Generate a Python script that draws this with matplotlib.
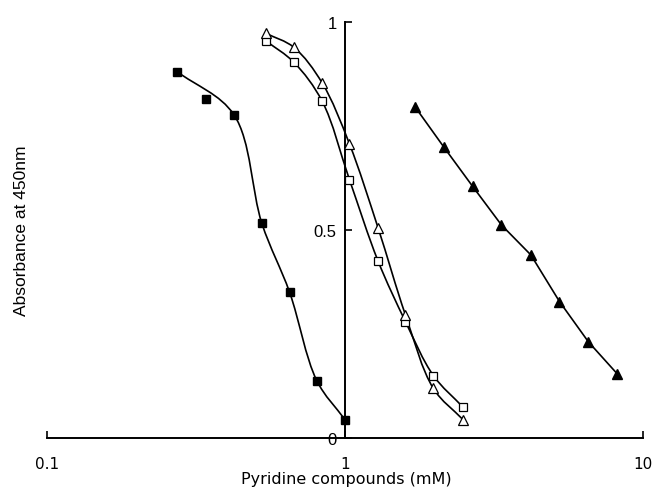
import numpy as np
import matplotlib
matplotlib.use("Agg")
import matplotlib.pyplot as plt
from matplotlib.path import Path
from matplotlib.patches import PathPatch
from matplotlib.ticker import NullLocator, FixedLocator

# data (concentration in mM, absorbance at 450 nm)
x_fsq = [0.273, 0.341, 0.424, 0.526, 0.652, 0.804, 1.0]
y_fsq = [0.881, 0.815, 0.777, 0.516, 0.350, 0.138, 0.044]
# the drawn curve for this series runs past the 2nd point, not through it
fsq_curve_idx = [0, 2, 3, 4, 5, 6]

x_osq = [0.542, 0.674, 0.839, 1.035, 1.29, 1.595, 1.98, 2.49]
y_osq = [0.955, 0.903, 0.809, 0.621, 0.426, 0.280, 0.150, 0.074]

x_otri = [0.542, 0.674, 0.839, 1.035, 1.29, 1.595, 1.98, 2.49]
y_otri = [0.973, 0.939, 0.853, 0.707, 0.506, 0.296, 0.119, 0.044]

x_ftri = [1.722, 2.143, 2.68, 3.35, 4.205, 5.245, 6.56, 8.20]
y_ftri = [0.795, 0.700, 0.605, 0.512, 0.440, 0.328, 0.231, 0.154]

xticks = [0.1, 1, 10]
xtick_labels = ["0.1", "1", "10"]
yticks = [0, 0.5, 1]
ytick_labels = ["0", "0.5", "1"]


# smooth line through the points: centripetal Catmull-Rom as cubic Beziers,
# worked out in a space scaled like the plot (log x, linear y)
def smooth_path(xs, ys, sx=298.5, sy=416.0):
    pts = np.column_stack([np.log10(xs) * sx, np.asarray(ys) * sy])
    n = len(pts)
    ext = np.vstack([2 * pts[0] - pts[1], pts, 2 * pts[-1] - pts[-2]])
    verts = [pts[0]]
    codes = [Path.MOVETO]
    for i in range(n - 1):
        p0, p1, p2, p3 = ext[i], ext[i + 1], ext[i + 2], ext[i + 3]
        d1 = np.linalg.norm(p1 - p0) ** 0.5
        d2 = np.linalg.norm(p2 - p1) ** 0.5
        d3 = np.linalg.norm(p3 - p2) ** 0.5
        b1 = (d1**2 * p2 - d2**2 * p0 + (2 * d1**2 + 3 * d1 * d2 + d2**2) * p1) / (3 * d1 * (d1 + d2))
        b2 = (d3**2 * p1 - d2**2 * p3 + (2 * d3**2 + 3 * d3 * d2 + d2**2) * p2) / (3 * d3 * (d3 + d2))
        verts += [b1, b2, p2]
        codes += [Path.CURVE4] * 3
    verts = np.array(verts)
    verts[:, 0] = 10 ** (verts[:, 0] / sx)
    verts[:, 1] = verts[:, 1] / sy
    return Path(verts, codes)


fig = plt.figure(figsize=(6.56, 4.89), dpi=100)
ax = fig.add_axes([47 / 656, 50 / 489, 596 / 656, 416 / 489])
ax.set_xscale("log")
ax.set_xlim(0.1, 10)
ax.set_ylim(0, 1)

lw = 1.2
xc = [x_fsq[i] for i in fsq_curve_idx]
yc = [y_fsq[i] for i in fsq_curve_idx]
for xs, ys in [(xc, yc), (x_osq, y_osq), (x_otri, y_otri)]:
    ax.add_patch(PathPatch(smooth_path(xs, ys), facecolor="none",
                           edgecolor="black", lw=lw, zorder=2))
ax.plot(x_ftri, y_ftri, color="black", lw=lw, zorder=2)

ax.plot(x_fsq, y_fsq, ls="none", marker="s", ms=5.5, mfc="black",
        mec="black", zorder=3)
ax.plot(x_osq, y_osq, ls="none", marker="s", ms=6, mfc="white",
        mec="black", mew=0.9, zorder=3)
ax.plot(x_otri, y_otri, ls="none", marker="^", ms=6.5, mfc="white",
        mec="black", mew=0.9, zorder=3)
ax.plot(x_ftri, y_ftri, ls="none", marker="^", ms=6.5, mfc="black",
        mec="black", zorder=3)

ax.spines["top"].set_visible(False)
ax.spines["right"].set_visible(False)
ax.spines["left"].set_position(("data", 1))
ax.spines["left"].set_linewidth(1.4)
ax.spines["bottom"].set_linewidth(1.4)

ax.xaxis.set_major_locator(FixedLocator(xticks))
ax.xaxis.set_minor_locator(NullLocator())
ax.set_xticklabels(xtick_labels, fontsize=11)
ax.set_yticks(yticks)
ax.set_yticklabels(ytick_labels, fontsize=12, family="Liberation Sans")
ax.tick_params(axis="x", direction="in", length=5, width=1.2, pad=13)
ax.tick_params(axis="y", direction="in", length=5, width=1.2, pad=6)

ax.set_xlabel("Pyridine compounds (mM)", fontsize=11.5, va="center")
ax.xaxis.set_label_coords(0.5025, -(480 - 439) / 416)
fig.text(22 / 656, (489 - 231) / 489, "Absorbance at 450nm", rotation=90,
         ha="center", va="center", fontsize=12.5, family="Liberation Sans")

fig.savefig("out.png", dpi=100)
